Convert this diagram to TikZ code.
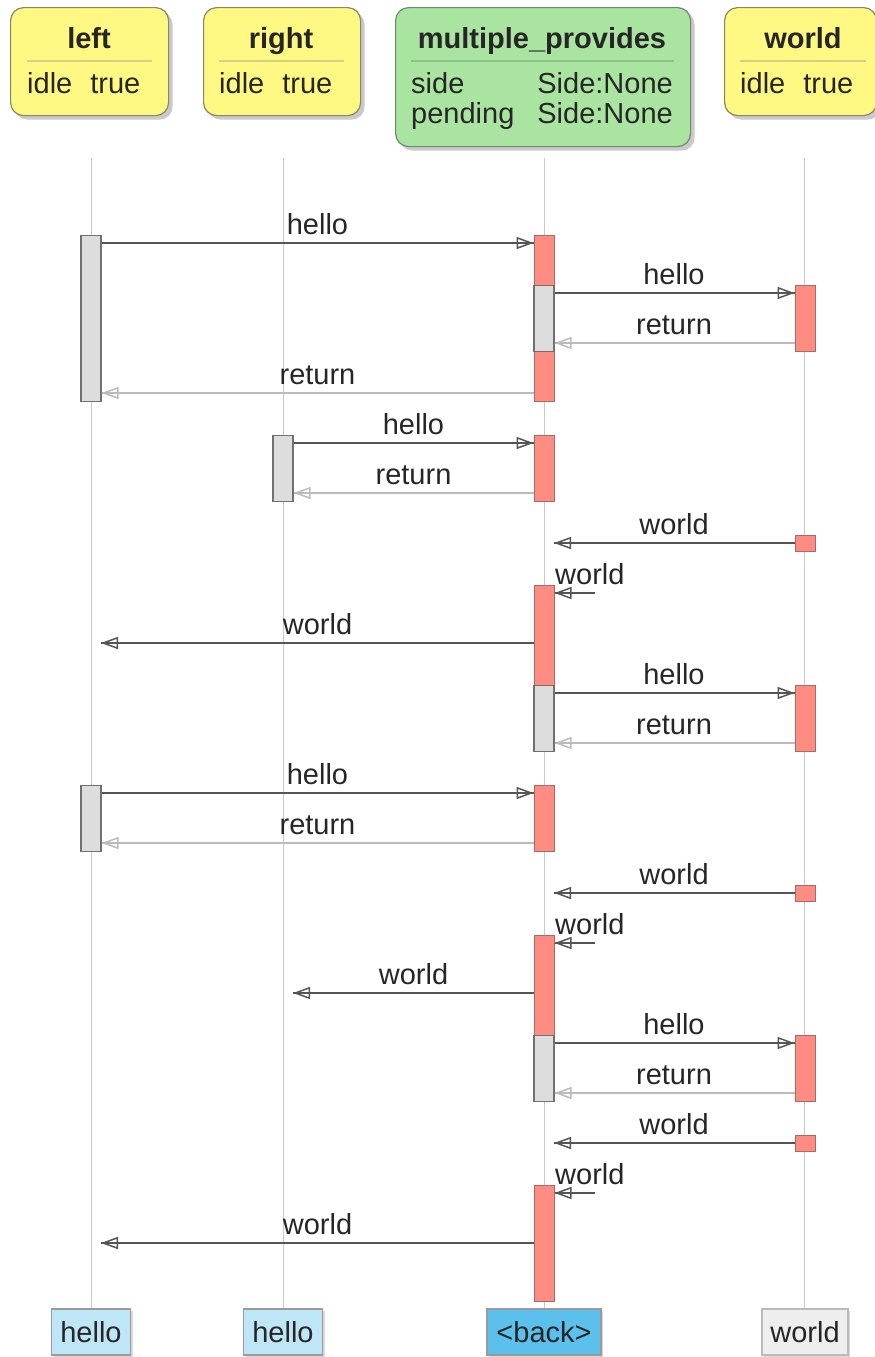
\documentclass[tikz,border=0pt]{standalone}
\usepackage{fontspec}
\setmainfont{Liberation Sans}
\usetikzlibrary{arrows.meta,shadows}
\definecolor{lifec}{HTML}{C8C8C8}
\definecolor{callc}{HTML}{555555}
\definecolor{retc}{HTML}{BBBBBB}
\definecolor{redf}{HTML}{FF8C82}
\definecolor{redd}{HTML}{A86A62}
\definecolor{grayf}{HTML}{DDDDDD}
\definecolor{grayd}{HTML}{707070}
\definecolor{yelf}{HTML}{FFF882}
\definecolor{yeld}{HTML}{8A8660}
\definecolor{yels}{HTML}{D8D080}
\definecolor{grnf}{HTML}{A9E5A0}
\definecolor{grnd}{HTML}{6E8A6E}
\definecolor{grns}{HTML}{8CC488}
\definecolor{bluel}{HTML}{BEE6F6}
\definecolor{blued}{HTML}{5BC0EB}
\definecolor{wgray}{HTML}{EEEEEE}
\definecolor{fbord}{HTML}{9A9A9A}
\definecolor{fbordl}{HTML}{BBBBBB}
\tikzset{
  fnt/.style={font=\fontsize{29}{34}\selectfont, text=black!85},
  lifeline/.style={draw=lifec, line width=1pt},
  tipc/.style={-{Triangle[open,length=17pt,width=12pt,line width=1.5pt]}},
  call/.style={draw=callc, line width=2.2pt, tipc, postaction={draw=callc, line width=2.2pt, arrows=-}},
  ret/.style={draw=retc, line width=2.2pt, tipc, postaction={draw=retc, line width=2.2pt, arrows=-}},
  redbar/.style={draw=redd, fill=redf, line width=1pt, minimum width=20pt, inner sep=0pt, anchor=north},
  graybar/.style={draw=grayd, fill=grayf, line width=1.2pt, minimum width=20pt, inner sep=0pt, anchor=north},
  hbox/.style={rounded corners=13pt, line width=1.2pt, inner sep=0pt, anchor=north west,
    drop shadow={shadow xshift=4pt, shadow yshift=-4pt, fill=black!35, opacity=0.6}},
  ybox/.style={hbox, draw=yeld, fill=yelf},
  gbox/.style={hbox, draw=grnd, fill=grnf},
  fbox/.style={fnt, draw=fbord, line width=1.2pt, inner sep=0pt, minimum height=46pt,
    drop shadow={shadow xshift=2pt, shadow yshift=-2pt, fill=black!30, opacity=0.5}},
  lbl/.style={fnt, anchor=base, inner sep=0pt},
  ttl/.style={fnt, font=\fontsize{29}{34}\selectfont\bfseries, anchor=base, inner sep=0pt},
}
\begin{document}
\begin{tikzpicture}[x=1pt,y=-1pt]
\useasboundingbox (0,0) rectangle (875,1357);
% headers
\node[ybox, minimum width=158pt, minimum height=108pt] (hl) at (10,7) {};
\node[ttl] (hlt) at (89,48) {left};
\draw[yels, line width=2pt] (27,61) -- (152,61);
\node[lbl, anchor=base west] (hlr) at (27,93) {idle\hspace{18pt}true};
\node[ybox, minimum width=157pt, minimum height=108pt] (hr) at (203,7) {};
\node[ttl] (hrt) at (281,48) {right};
\draw[yels, line width=2pt] (219,61) -- (344,61);
\node[lbl, anchor=base west] (hrr) at (219,93) {idle\hspace{18pt}true};
\node[gbox, minimum width=295pt, minimum height=139pt] (hm) at (395,7) {};
\node[ttl] (hmt) at (542,48) {multiple\_provides};
\draw[grns, line width=2pt] (411,61) -- (674,61);
\node[lbl, anchor=base west] (hm1) at (411,93) {side};
\node[lbl, anchor=base east] (hm2) at (673,93) {Side:None};
\node[lbl, anchor=base west] (hm3) at (411,123) {pending};
\node[lbl, anchor=base east] (hm4) at (673,123) {Side:None};
\node[ybox, minimum width=152pt, minimum height=108pt] (hw) at (724,7) {};
\node[ttl] (hwt) at (803,48) {world};
\draw[yels, line width=2pt] (740,61) -- (866,61);
\node[lbl, anchor=base west] (hwr) at (740,93) {idle\hspace{18pt}true};
% lifelines
\coordinate (lt1) at (91,158); \coordinate (lb1) at (91,1309);
\coordinate (lt2) at (283,158); \coordinate (lb2) at (283,1309);
\coordinate (lt3) at (544,158); \coordinate (lb3) at (544,1309);
\coordinate (lt4) at (804,158); \coordinate (lb4) at (804,1309);
\draw[lifeline] (lt1) -- (lb1);
\draw[lifeline] (lt2) -- (lb2);
\draw[lifeline] (lt3) -- (lb3);
\draw[lifeline] (lt4) -- (lb4);
% footers
\node[fbox, fill=bluel, minimum width=79pt] (fl) at (91,1332) {hello};
\node[fbox, fill=bluel, minimum width=79pt] (fr) at (283,1332) {hello};
\node[fbox, fill=blued, minimum width=114pt] (fm) at (544,1332) {<back>};
\node[fbox, fill=wgray, draw=fbordl, minimum width=86pt] (fw) at (805,1332) {world};
% activation bars
\node[graybar, minimum height=166pt] (L1) at (91,235) {};
\node[graybar, minimum height=66pt] (L2) at (91,785) {};
\node[graybar, minimum height=66pt] (R1) at (283,435) {};
\node[redbar, minimum height=166pt] (M1) at (544,235) {};
\node[graybar, minimum height=66pt] (M1g) at (544,285) {};
\node[redbar, minimum height=66pt] (M2) at (544,435) {};
\node[redbar, minimum height=166pt] (M3) at (544,585) {};
\node[graybar, minimum height=66pt] (M3g) at (544,685) {};
\node[redbar, minimum height=66pt] (M4) at (544,785) {};
\node[redbar, minimum height=166pt] (M5) at (544,935) {};
\node[graybar, minimum height=66pt] (M5g) at (544,1035) {};
\node[redbar, minimum height=116pt] (M6) at (544,1185) {};
\node[redbar, minimum height=66pt] (W1) at (805,285) {};
\node[redbar, minimum height=16pt] (W2) at (805,535) {};
\node[redbar, minimum height=66pt] (W3) at (805,685) {};
\node[redbar, minimum height=16pt] (W4) at (805,885) {};
\node[redbar, minimum height=66pt] (W5) at (805,1035) {};
\node[redbar, minimum height=16pt] (W6) at (805,1135) {};
% free ends
\coordinate (e7) at (554,543);
\coordinate (s8) at (595,593);
\coordinate (e9) at (101,643);
\coordinate (e14) at (554,893);
\coordinate (s15) at (595,943);
\coordinate (e16) at (293,993);
\coordinate (e19) at (554,1143);
\coordinate (s20) at (595,1193);
\coordinate (e21) at (101,1243);
% messages
\draw[call] (L1.east |- 0,243) -- (M1.west |- 0,243);
\node[lbl] (t1) at (317.5,234) {hello};
\draw[call] (M1g.east |- 0,293) -- (W1.west |- 0,293);
\node[lbl] (t2) at (674,284) {hello};
\draw[ret] (W1.west |- 0,343) -- (M1g.east |- 0,343);
\node[lbl] (t3) at (674,334) {return};
\draw[ret] (M1.west |- 0,393) -- (L1.east |- 0,393);
\node[lbl] (t4) at (317.5,384) {return};
\draw[call] (R1.east |- 0,443) -- (M2.west |- 0,443);
\node[lbl] (t5) at (413.5,434) {hello};
\draw[ret] (M2.west |- 0,493) -- (R1.east |- 0,493);
\node[lbl] (t6) at (413.5,484) {return};
\draw[call] (W2.west |- 0,543) -- (e7);
\node[lbl] (t7) at (674,534) {world};
\draw[call] (s8) -- (M3.east |- s8);
\node[lbl, anchor=base west] (t8) at (555,584) {world};
\draw[call] (M3.west |- 0,643) -- (e9);
\node[lbl] (t9) at (317.5,634) {world};
\draw[call] (M3g.east |- 0,693) -- (W3.west |- 0,693);
\node[lbl] (t10) at (674,684) {hello};
\draw[ret] (W3.west |- 0,743) -- (M3g.east |- 0,743);
\node[lbl] (t11) at (674,734) {return};
\draw[call] (L2.east |- 0,793) -- (M4.west |- 0,793);
\node[lbl] (t12) at (317.5,784) {hello};
\draw[ret] (M4.west |- 0,843) -- (L2.east |- 0,843);
\node[lbl] (t13) at (317.5,834) {return};
\draw[call] (W4.west |- 0,893) -- (e14);
\node[lbl] (t14) at (674,884) {world};
\draw[call] (s15) -- (M5.east |- s15);
\node[lbl, anchor=base west] (t15) at (555,934) {world};
\draw[call] (M5.west |- 0,993) -- (e16);
\node[lbl] (t16) at (413.5,984) {world};
\draw[call] (M5g.east |- 0,1043) -- (W5.west |- 0,1043);
\node[lbl] (t17) at (674,1034) {hello};
\draw[ret] (W5.west |- 0,1093) -- (M5g.east |- 0,1093);
\node[lbl] (t18) at (674,1084) {return};
\draw[call] (W6.west |- 0,1143) -- (e19);
\node[lbl] (t19) at (674,1134) {world};
\draw[call] (s20) -- (M6.east |- s20);
\node[lbl, anchor=base west] (t20) at (555,1184) {world};
\draw[call] (M6.west |- 0,1243) -- (e21);
\node[lbl] (t21) at (317.5,1234) {world};
\end{tikzpicture}
\end{document}
